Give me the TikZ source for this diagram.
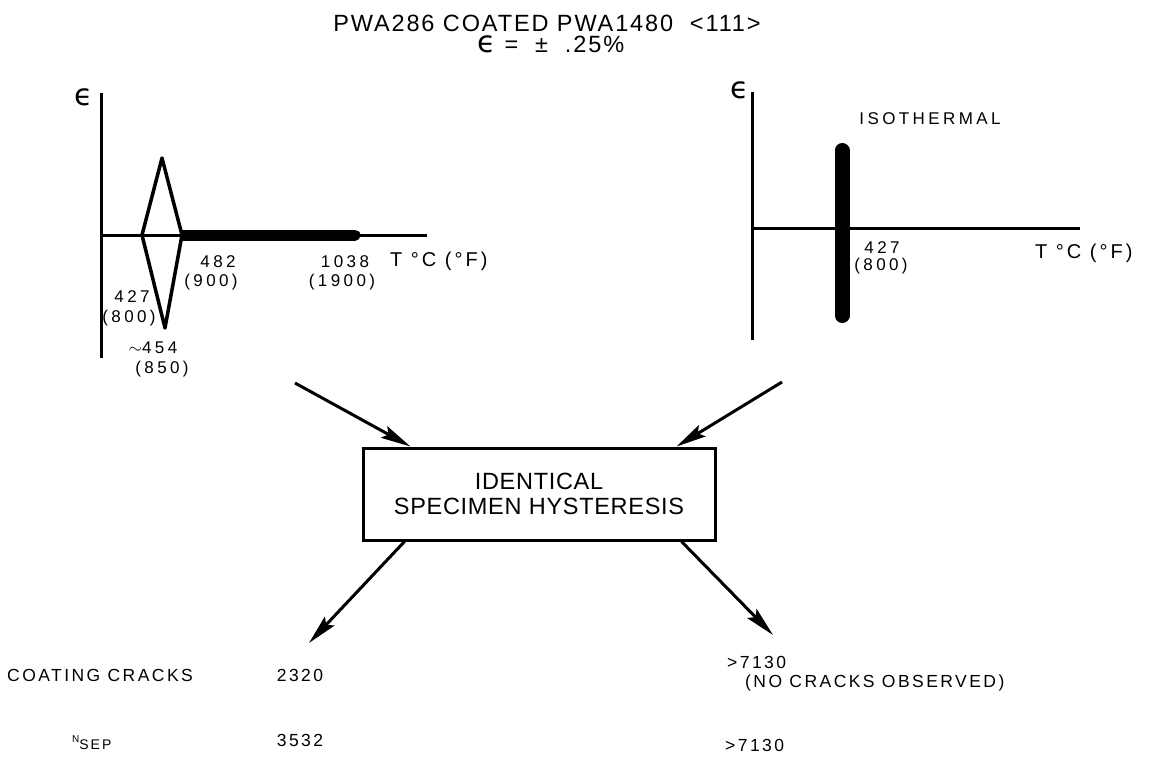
\documentclass[tikz,border=0pt]{standalone}
\usepackage{fontspec}
\setmainfont{Liberation Sans}
\newfontfamily\fTitle{Liberation Sans}[LetterSpace=8]
\newfontfamily\fBox{Liberation Sans}[LetterSpace=3]
\newfontfamily\fWide{Liberation Sans}[LetterSpace=20]
\newfontfamily\fMid{Liberation Sans}[LetterSpace=14]
\newfontfamily\fAx{Liberation Sans}[LetterSpace=15]
\newfontfamily\fEps{DejaVu Sans}
\newcommand{\epsglyph}[1]{{\fEps\fontsize{#1}{#1}\selectfont ϵ}}
\usetikzlibrary{arrows.meta}
\tikzset{
  axisline/.style={line width=3pt},
  curveline/.style={line width=3.5pt, line join=round},
  arr/.style={line width=3pt, -{Stealth[length=30pt, width=13pt, inset=5pt]}},
  ttl/.style={inner sep=0pt, text height=17pt, text depth=0pt, font=\fTitle\fontsize{23.5}{26}\selectfont},
  tick/.style={inner sep=0pt, font=\fWide\fontsize{17}{19}\selectfont},
  axlab/.style={inner sep=0pt, font=\fAx\fontsize{20}{22}\selectfont},
  eps/.style={inner sep=0pt},
  btxt/.style={inner sep=0pt, font=\fMid\fontsize{17.5}{20}\selectfont},
  boxnode/.style={draw, line width=3pt, minimum width=352pt, minimum height=92pt,
    align=center, font=\fBox\fontsize{23.5}{25}\selectfont, inner sep=0pt}
}
\begin{document}
\begin{tikzpicture}[x=1pt,y=-1pt]
\useasboundingbox (0,0) rectangle (1161,769);
% title
\node[ttl] (t1) at (547,23) {PWA286 COATED PWA1480\ \ <111>};
\node[ttl] (t2) at (551,44) {\epsglyph{30} = \ ± \ .25\%};

% left plot
\node[eps] (epsL) at (84,97) {\epsglyph{30}};
\draw[axisline] (101,93) -- (101,358);
\draw[axisline] (101,235) -- (427,235);
\draw[curveline] (142,235) -- (162,158) -- (182,235) -- (165,328) -- cycle;
\draw[line width=11pt] (182,235) -- (352,235);
\draw[line width=11pt, line cap=round] (350,235) -- (355,235);
\node[tick] (l427) at (132,297) {427};
\node[tick] (l800) at (129,318) {(800)};
\node[tick] (l454) at (153,348) {$\sim$454};
\node[tick] (l850) at (162,369) {(850)};
\node[tick] (l482) at (218,262) {482};
\node[tick] (l900) at (211,282) {(900)};
\node[tick] (l1038) at (345,262) {1038};
\node[tick] (l1900) at (342,282) {(1900)};
\node[axlab, anchor=west] (lT) at (390,261) {T °C (°F)};

% right plot
\node[eps] (epsR) at (740,90) {\epsglyph{30}};
\draw[axisline] (752,92) -- (752,340);
\draw[axisline] (752,228) -- (1080,228);
\draw[line width=15pt, line cap=round] (842,150.5) -- (842,315.5);
\node[tick] (iso) at (930,119) {ISOTHERMAL};
\node[tick] (r427) at (882,248) {427};
\node[tick] (r800) at (881,266) {(800)};
\node[axlab, anchor=west] (rT) at (1035,253) {T °C (°F)};

% box and arrows
\node[boxnode] (box) at (539,494) {IDENTICAL\\SPECIMEN HYSTERESIS};
\coordinate (aTL) at (295,383);
\coordinate (aTR) at (782,382);
\coordinate (aBL) at (309,643);
\coordinate (aBR) at (773,635);
\draw[arr] (aTL) -- ([xshift=49pt]box.north west);
\draw[arr] (aTR) -- ([xshift=-40pt]box.north east);
\draw[arr] ([xshift=43pt]box.south west) -- (aBL);
\draw[arr] ([xshift=-35pt]box.south east) -- (aBR);

% bottom table
\node[btxt, anchor=west] (cc) at (7,675) {COATING CRACKS};
\node[btxt] (n2320) at (300,675) {2320};
\node[btxt, anchor=west] (n7130a) at (727,662) {>7130};
\node[btxt, anchor=west] (nco) at (745,683) {(NO CRACKS OBSERVED)};
\node[inner sep=0pt, anchor=west] (nsep) at (72,743) {\fontsize{10}{12}\selectfont N\raisebox{-7pt}{\fMid\fontsize{14}{16}\selectfont SEP}};
\node[btxt] (n3532) at (300,740) {3532};
\node[btxt, anchor=west] (n7130b) at (725,745) {>7130};
\end{tikzpicture}
\end{document}
